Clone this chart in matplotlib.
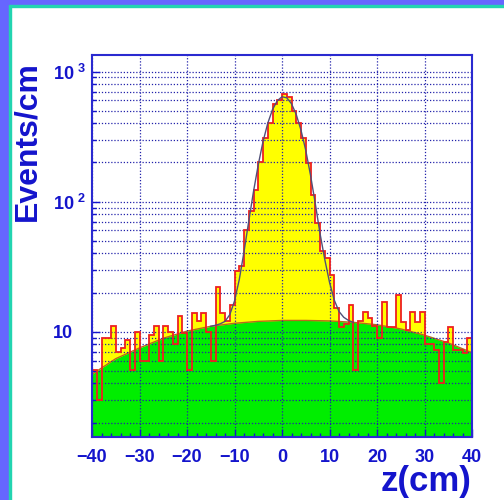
import numpy as np
import matplotlib.pyplot as plt
import matplotlib.transforms as mtransforms
from matplotlib.ticker import MultipleLocator, LogLocator, NullFormatter
from matplotlib.patches import Rectangle

plt.rcParams['font.family'] = ['Liberation Sans', 'DejaVu Sans']
plt.rcParams['mathtext.fontset'] = 'custom'
plt.rcParams['mathtext.rm'] = 'Liberation Sans'
plt.rcParams['mathtext.bf'] = 'Liberation Sans:bold'

# z vertex distribution, 1 cm bins from -40 to 40
bin_edges = np.arange(-40, 41, 1)
events = [5.1, 3.0, 9.0, 9.0, 11.0, 7.0, 7.5, 8.7, 5.1, 10.0,
          6.0, 6.0, 9.5, 11.1, 6.0, 11.1, 10.0, 8.1, 13.1, 9.8,
          5.1, 14.0, 12.0, 14.0, 10.0, 6.0, 22.0, 14.0, 12.0, 16.0,
          29.5, 32.0, 60.0, 84.0, 123.0, 200.0, 310.0, 405.0, 560.0, 600.0,
          675.0, 635.0, 495.0, 401.0, 310.0, 197.0, 113.0, 69.0, 42.0, 36.7,
          27.3, 15.1, 10.9, 11.5, 16.0, 5.1, 12.0, 14.1, 12.7, 11.1,
          9.0, 17.0, 10.9, 10.8, 19.0, 11.9, 10.3, 14.1, 11.9, 14.1,
          8.1, 8.1, 7.2, 4.0, 8.3, 10.8, 7.2, 7.2, 6.8, 9.0]

# flat background component of the fit
bg_z = [-40, -35, -30, -25, -20, -15, -10, -5, 0, 5, 10, 15, 20, 25, 30, 35, 40]
bg_val = [4.7, 6.2, 7.5, 8.9, 10.1, 11.0, 11.6, 12.0, 12.2, 12.2, 12.1, 11.8, 11.3, 10.5, 9.4, 8.2, 6.9]

# total fit (signal peak + background) around the peak
fit_z = [-15, -14, -13, -12, -11, -10, -9, -8, -7, -6, -5, -4, -3, -2, -1, 0,
         1, 2, 3, 4, 5, 6, 7, 8, 9, 10, 11, 12, 13, 14, 15]
fit_val = [11.0, 11.2, 11.5, 12.0, 13.5, 17.2, 25.1, 41.1, 70.6, 119.5, 192.0, 289.0, 400.0, 510.0, 596.0, 640.0,
           628.0, 566.0, 467.0, 354.0, 248.0, 160.0, 97.0, 57.0, 36.0, 24.0, 17.5, 14.3, 12.9, 12.2, 11.8]

blue = '#1414cc'
fig = plt.figure(figsize=(5.04, 5.0), dpi=100)
fig.patch.set_facecolor('white')

# frame band round the canvas
fig.add_artist(Rectangle((0, 0), 9 / 504, 1, transform=fig.transFigure, color='#6666ff', zorder=0))
fig.add_artist(Rectangle((0, 1 - 6 / 500), 1, 6 / 500, transform=fig.transFigure, color='#6666ff', zorder=0))
fig.add_artist(Rectangle((9 / 504, 0), 2 / 504, 1 - 6 / 500, transform=fig.transFigure, color='#22d4b0', zorder=0))
fig.add_artist(Rectangle((9 / 504, 1 - 7 / 500), 1, 1.5 / 500, transform=fig.transFigure, color='#22d4b0', zorder=0))

ax = fig.add_axes([92 / 504, 63 / 500, 380 / 504, 382 / 500])
ax.set_yscale('log')
ax.set_xlim(-40, 40)
ax.set_ylim(1.55, 1340)

ax.stairs(events, bin_edges, fill=True, color='#ffff00', baseline=1.0, zorder=1)
ax.fill_between(bg_z, 1.0, bg_val, color='#00ee00', lw=0, zorder=1.5)
ax.plot(bg_z, bg_val, color='#b86a1c', lw=1.0, zorder=2)
ax.stairs(events, bin_edges, fill=False, color='#ee2020', lw=1.3, baseline=1.0, zorder=4)
ax.plot(fit_z, fit_val, color='#505078', lw=1.0, zorder=4.5)

# dotted grid on top of the fills
ax.set_axisbelow(False)
ax.xaxis.set_major_locator(MultipleLocator(10))
ax.xaxis.set_minor_locator(MultipleLocator(2))
ax.yaxis.set_major_locator(LogLocator(base=10, subs=[1.0]))
ax.yaxis.set_minor_locator(LogLocator(base=10, subs=np.arange(2, 10)))
ax.yaxis.set_minor_formatter(NullFormatter())
ax.grid(True, axis='x', which='major', color='#2222aa', ls=(0, (1, 1.5)), lw=0.9)
ax.grid(True, axis='y', which='both', color='#2222aa', ls=(0, (1, 1.5)), lw=0.9)

ax.set_yticks([10, 100, 1000])
ax.set_yticklabels(['10', r'$\mathbf{10^{\ 2}}$', r'$\mathbf{10^{\ 3}}$'])
for lbl in ax.get_yticklabels():
    lbl.set_horizontalalignment('left')
# top label sits a little above its grid line
top_lbl = ax.get_yticklabels()[-1]
top_lbl.set_transform(top_lbl.get_transform() +
                      mtransforms.ScaledTranslation(0, 5 / 72, fig.dpi_scale_trans))

ax.tick_params(axis='both', which='both', direction='in', color=blue, top=False, right=False)
ax.tick_params(axis='both', which='major', length=6, width=1)
ax.tick_params(axis='both', which='minor', length=3, width=1)
ax.tick_params(axis='x', labelsize=13, labelcolor=blue, pad=9)
ax.tick_params(axis='y', labelsize=13, labelcolor=blue, pad=28)
for lbl in ax.get_xticklabels() + ax.get_yticklabels():
    lbl.set_fontweight('bold')

for sp in ax.spines.values():
    sp.set_color('#2a2ad0')
    sp.set_linewidth(1.5)
    sp.set_zorder(6)

fig.text(472 / 504, 1 - 482 / 500, 'z(cm)', ha='right', va='center',
         fontsize=25, fontweight='bold', color=blue)
fig.text(27 / 504, 1 - 141 / 500, 'Events/cm', ha='center', va='center', rotation=90,
         fontsize=23, fontweight='bold', color=blue)

fig.savefig('out.png', dpi=100)
